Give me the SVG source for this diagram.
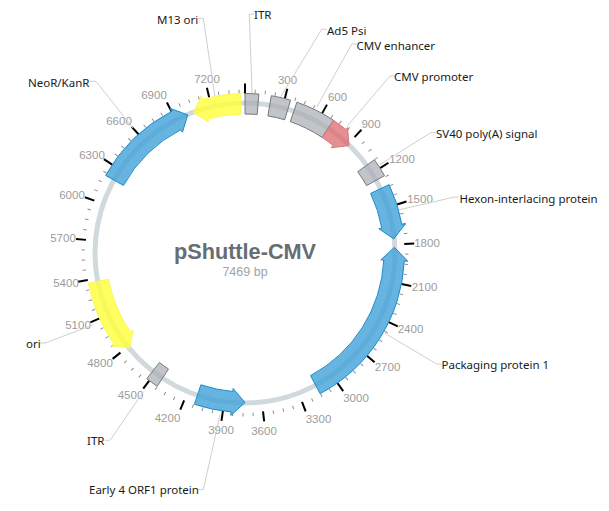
<svg xmlns="http://www.w3.org/2000/svg" width="609" height="511" viewBox="0 0 609 511">
<style>
text{font-family:"Noto Sans","Liberation Sans",sans-serif}
.lab{font-size:11.5px;fill:#1a1a1a}
.num{font-family:"Liberation Sans",Arial,sans-serif;font-size:11.5px;fill:#9c9c9c;text-anchor:middle}
.ttl{font-family:"Liberation Sans",Arial,sans-serif;text-anchor:middle}
.lead{fill:none;stroke:#cfcfcf;stroke-width:1}
.f{stroke-width:1;stroke-linejoin:round}
.blue{fill:#3d9fd9;fill-opacity:.78;stroke:#1b8ccb}
.yel{fill:#ffff3c;fill-opacity:.82;stroke:#fdf65a}
.gry{fill:#a9adb4;fill-opacity:.72;stroke:#77797c}
.red{fill:#dc6468;fill-opacity:.72;stroke:#d9777b}
.maj{stroke:#000;stroke-width:2}
.min{stroke:#8f8f8f;stroke-width:1}
</style>
<defs>
<line id="M" class="maj" x1="245" y1="93.5" x2="245" y2="83.5"/>
<line id="m" class="min" x1="245" y1="93" x2="245" y2="89.5"/>
</defs>
<g id="backbone"><circle cx="245" cy="253" r="150" fill="none" stroke="#d0dadc" stroke-width="5"/></g>
<g id="ticks-minor">
<use href="#m" transform="rotate(3.6 245 253)"/><use href="#m" transform="rotate(7.2 245 253)"/><use href="#m" transform="rotate(10.8 245 253)"/><use href="#m" transform="rotate(18.1 245 253)"/><use href="#m" transform="rotate(21.7 245 253)"/><use href="#m" transform="rotate(25.3 245 253)"/><use href="#m" transform="rotate(32.5 245 253)"/><use href="#m" transform="rotate(36.1 245 253)"/><use href="#m" transform="rotate(39.8 245 253)"/><use href="#m" transform="rotate(47 245 253)"/><use href="#m" transform="rotate(50.6 245 253)"/><use href="#m" transform="rotate(54.2 245 253)"/><use href="#m" transform="rotate(61.5 245 253)"/><use href="#m" transform="rotate(65.1 245 253)"/><use href="#m" transform="rotate(68.7 245 253)"/><use href="#m" transform="rotate(75.9 245 253)"/><use href="#m" transform="rotate(79.5 245 253)"/><use href="#m" transform="rotate(83.1 245 253)"/><use href="#m" transform="rotate(90.4 245 253)"/><use href="#m" transform="rotate(94 245 253)"/><use href="#m" transform="rotate(97.6 245 253)"/><use href="#m" transform="rotate(104.8 245 253)"/><use href="#m" transform="rotate(108.4 245 253)"/><use href="#m" transform="rotate(112.1 245 253)"/><use href="#m" transform="rotate(119.3 245 253)"/><use href="#m" transform="rotate(122.9 245 253)"/><use href="#m" transform="rotate(126.5 245 253)"/><use href="#m" transform="rotate(133.7 245 253)"/><use href="#m" transform="rotate(137.4 245 253)"/><use href="#m" transform="rotate(141 245 253)"/><use href="#m" transform="rotate(148.2 245 253)"/><use href="#m" transform="rotate(151.8 245 253)"/><use href="#m" transform="rotate(155.4 245 253)"/><use href="#m" transform="rotate(162.7 245 253)"/><use href="#m" transform="rotate(166.3 245 253)"/><use href="#m" transform="rotate(169.9 245 253)"/><use href="#m" transform="rotate(177.1 245 253)"/><use href="#m" transform="rotate(180.7 245 253)"/><use href="#m" transform="rotate(184.4 245 253)"/><use href="#m" transform="rotate(191.6 245 253)"/><use href="#m" transform="rotate(195.2 245 253)"/><use href="#m" transform="rotate(198.8 245 253)"/><use href="#m" transform="rotate(206 245 253)"/><use href="#m" transform="rotate(209.7 245 253)"/><use href="#m" transform="rotate(213.3 245 253)"/><use href="#m" transform="rotate(220.5 245 253)"/><use href="#m" transform="rotate(224.1 245 253)"/><use href="#m" transform="rotate(227.7 245 253)"/><use href="#m" transform="rotate(235 245 253)"/><use href="#m" transform="rotate(238.6 245 253)"/><use href="#m" transform="rotate(242.2 245 253)"/><use href="#m" transform="rotate(249.4 245 253)"/><use href="#m" transform="rotate(253 245 253)"/><use href="#m" transform="rotate(256.7 245 253)"/><use href="#m" transform="rotate(263.9 245 253)"/><use href="#m" transform="rotate(267.5 245 253)"/><use href="#m" transform="rotate(271.1 245 253)"/><use href="#m" transform="rotate(278.3 245 253)"/><use href="#m" transform="rotate(282 245 253)"/><use href="#m" transform="rotate(285.6 245 253)"/><use href="#m" transform="rotate(292.8 245 253)"/><use href="#m" transform="rotate(296.4 245 253)"/><use href="#m" transform="rotate(300 245 253)"/><use href="#m" transform="rotate(307.3 245 253)"/><use href="#m" transform="rotate(310.9 245 253)"/><use href="#m" transform="rotate(314.5 245 253)"/><use href="#m" transform="rotate(321.7 245 253)"/><use href="#m" transform="rotate(325.3 245 253)"/><use href="#m" transform="rotate(329 245 253)"/><use href="#m" transform="rotate(336.2 245 253)"/><use href="#m" transform="rotate(339.8 245 253)"/><use href="#m" transform="rotate(343.4 245 253)"/><use href="#m" transform="rotate(350.6 245 253)"/><use href="#m" transform="rotate(354.3 245 253)"/><use href="#m" transform="rotate(357.9 245 253)"/>
</g>
<g id="ticks-major">
<use href="#M"/><use href="#M" transform="rotate(14.46 245 253)"/><use href="#M" transform="rotate(28.92 245 253)"/><use href="#M" transform="rotate(43.38 245 253)"/><use href="#M" transform="rotate(57.84 245 253)"/><use href="#M" transform="rotate(72.3 245 253)"/><use href="#M" transform="rotate(86.75 245 253)"/><use href="#M" transform="rotate(101.21 245 253)"/><use href="#M" transform="rotate(115.67 245 253)"/><use href="#M" transform="rotate(130.13 245 253)"/><use href="#M" transform="rotate(144.59 245 253)"/><use href="#M" transform="rotate(159.05 245 253)"/><use href="#M" transform="rotate(173.51 245 253)"/><use href="#M" transform="rotate(187.97 245 253)"/><use href="#M" transform="rotate(202.43 245 253)"/><use href="#M" transform="rotate(216.89 245 253)"/><use href="#M" transform="rotate(231.35 245 253)"/><use href="#M" transform="rotate(245.81 245 253)"/><use href="#M" transform="rotate(260.26 245 253)"/><use href="#M" transform="rotate(274.72 245 253)"/><use href="#M" transform="rotate(289.18 245 253)"/><use href="#M" transform="rotate(303.64 245 253)"/><use href="#M" transform="rotate(318.1 245 253)"/><use href="#M" transform="rotate(332.56 245 253)"/><use href="#M" transform="rotate(347.02 245 253)"/>
</g>
<g id="tick-labels">
<text class="num" x="287.5" y="84">300</text><text class="num" x="337.5" y="101">600</text><text class="num" x="371" y="128">900</text><text class="num" x="402" y="163">1200</text><text class="num" x="420" y="203">1500</text><text class="num" x="427" y="247">1800</text><text class="num" x="424.5" y="291">2100</text><text class="num" x="410.5" y="333">2400</text><text class="num" x="387.5" y="371">2700</text><text class="num" x="356" y="402">3000</text><text class="num" x="318.5" y="423">3300</text><text class="num" x="264" y="435">3600</text><text class="num" x="221" y="434">3900</text><text class="num" x="167.5" y="422">4200</text><text class="num" x="130.5" y="399">4500</text><text class="num" x="100" y="367">4800</text><text class="num" x="78" y="329">5100</text><text class="num" x="66" y="287">5400</text><text class="num" x="63" y="242">5700</text><text class="num" x="72" y="199">6000</text><text class="num" x="92" y="159">6300</text><text class="num" x="119" y="125">6600</text><text class="num" x="154" y="99">6900</text><text class="num" x="207" y="83">7200</text>
</g>
<g id="connectors">
<polyline class="lead" points="198.3,18.3 203.3,18.3 215,97"/>
<polyline class="lead" points="254,14 249.3,14 252,93"/>
<polyline class="lead" points="326.7,29.3 321.7,29.3 280.7,96.7"/>
<polyline class="lead" points="356.7,44 351.7,44 316.7,107.3"/>
<polyline class="lead" points="395,76 390,76 346.7,126.7"/>
<polyline class="lead" points="435.7,132.7 430.7,132.7 379.3,165"/>
<polyline class="lead" points="459,197 454.3,197 398.3,210"/>
<polyline class="lead" points="441.7,364 436.7,364 385,333.3"/>
<polyline class="lead" points="198.3,489.7 203.3,489.7 220,415"/>
<polyline class="lead" points="105,440.3 110,440.3 143.3,391.7"/>
<polyline class="lead" points="40,343 45,343 93,325"/>
<polyline class="lead" points="90,81.3 96,81.3 133,128"/>
</g>
<g id="m13-ori"><path class="f yel" d="M240.55,93.56A159.5,159.5 0 0 0 202.38,99.3L201.45,95.93L193.38,112.7L208.66,121.95L207.86,119.06A139,139 0 0 1 241.12,114.06Z"/><text class="lab" x="157" y="24">M13 ori</text></g>
<g id="itr-1"><path class="f gry" d="M245,93.5A159.5,159.5 0 0 1 258.9,94.1L257.1,114.5A139,139 0 0 0 245,114Z"/><text class="lab" x="254" y="19">ITR</text></g>
<g id="ad5-psi"><path class="f gry" d="M271.3,95.7A159.5,159.5 0 0 1 290.57,100.15L284.7,119.8A139,139 0 0 0 267.9,115.9Z"/><text class="lab" x="327" y="35">Ad5 Psi</text></g>
<g id="cmv-enhancer"><path class="f gry" d="M296.9,102.2A159.5,159.5 0 0 1 333.5,120.3L322.1,137.4A139,139 0 0 0 290.3,121.6Z"/><text class="lab" x="356.5" y="50">CMV enhancer</text></g>
<g id="cmv-promoter"><path class="f red" d="M333.5,120.3A159.5,159.5 0 0 1 346,129.6L347.6,127.6L349,145.6L331.1,147.8L333,145.4A139,139 0 0 0 322.1,137.4Z"/><text class="lab" x="394" y="81">CMV promoter</text></g>
<g id="sv40"><path class="f gry" d="M374.4,159.7A159.5,159.5 0 0 1 384.5,175.7L366.6,185.6A139,139 0 0 0 357.7,171.7Z"/><text class="lab" x="436" y="138">SV40 poly(A) signal</text></g>
<g id="hexon"><path class="f blue" d="M389.1,184.6A159.5,159.5 0 0 1 401.9,224.5L405.4,223.9L393.8,238.9L378.8,228.7L381.8,228.1A139,139 0 0 0 370.6,193.4Z"/><text class="lab" x="459.5" y="203">Hexon-interlacing protein</text></g>
<g id="packaging"><path class="f blue" d="M394.4,247.3L407.8,261.2L404.3,261.1A159.5,159.5 0 0 1 320.1,393.7L310.5,375.6A139,139 0 0 0 383.8,260L380.8,259.9Z"/><text class="lab" x="441.5" y="369">Packaging protein 1</text></g>
<g id="early4"><path class="f blue" d="M194.4,404.3A159.5,159.5 0 0 0 231.1,411.9L230.8,415.4L245,402.5L233.1,388.5L232.9,391.5A139,139 0 0 1 200.9,384.8Z"/><text class="lab" x="89" y="494">Early 4 ORF1 protein</text></g>
<g id="itr-2"><path class="f gry" d="M157.2,386.2A159.5,159.5 0 0 1 146.8,378.7L159.4,362.5A139,139 0 0 0 168.5,369Z"/><text class="lab" x="87" y="445">ITR</text></g>
<g id="ori"><path class="f yel" d="M88.4,283.2A159.5,159.5 0 0 0 113.9,343.8L111,345.8L129.5,347.9L133.2,330.4L130.7,332.1A139,139 0 0 1 108.5,279.3Z"/><text class="lab" x="26" y="348">ori</text></g>
<g id="neor"><path class="f blue" d="M105.6,175.4A159.5,159.5 0 0 1 171.6,111.4L170,108.3L187.8,114.9L182.4,132.3L181,129.6A139,139 0 0 0 123.5,185.4Z"/><text class="lab" x="28" y="87">NeoR/KanR</text></g>
<g id="title">
<text class="ttl" x="245" y="259" font-size="21.7" font-weight="700" fill="#666e73">pShuttle-CMV</text>
<text class="ttl" x="245" y="275.5" font-size="12.5" fill="#a3a3a3">7469 bp</text>
</g>
</svg>
